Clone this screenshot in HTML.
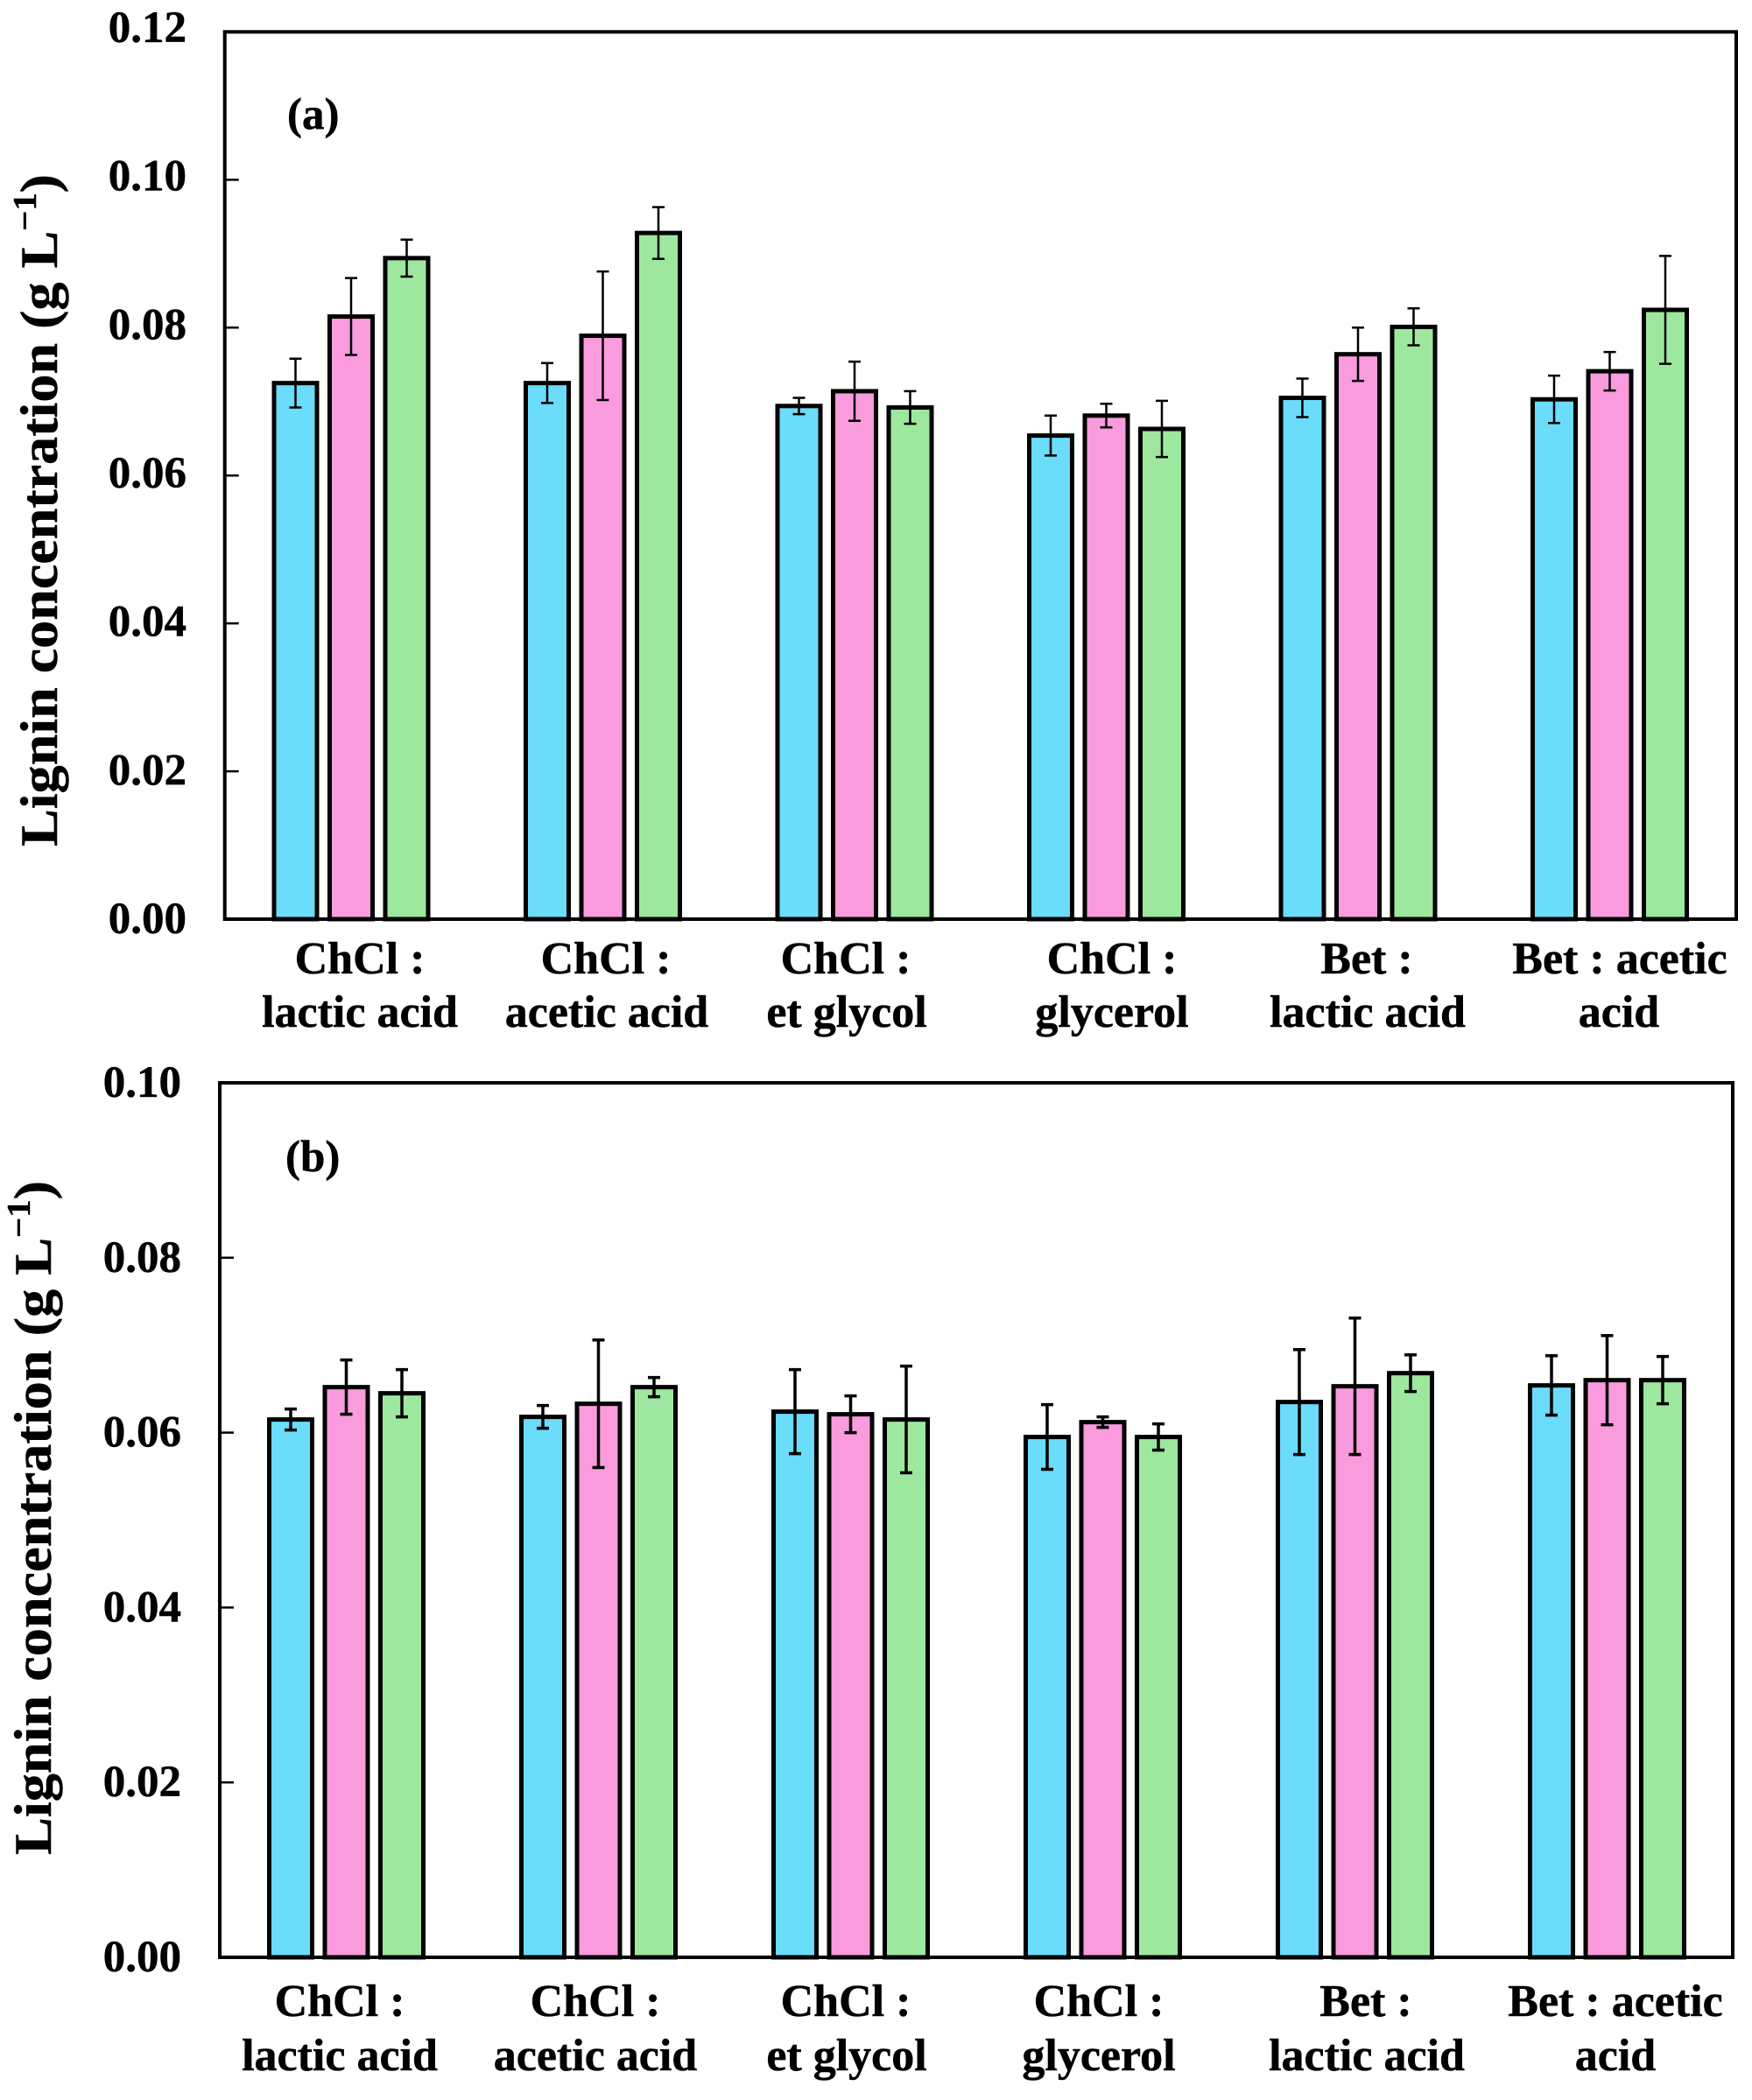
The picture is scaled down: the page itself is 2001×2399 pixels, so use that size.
<!DOCTYPE html>
<html lang="en">
<head>
<meta charset="utf-8">
<title>Lignin concentration bar charts</title>
<style>
html,body{margin:0;padding:0;background:#fff;}
svg{display:block;}
text{font-family:"Liberation Serif",serif;font-weight:bold;fill:#000;stroke:#000;stroke-width:.5px;}
.cat{font-size:52px;text-anchor:middle;}
.tick{font-size:51px;text-anchor:end;}
.title{font-size:60px;}
.sup{font-size:38px;}
.panel-tag{font-size:51px;}
</style>
</head>
<body>
<svg id="chart" xmlns="http://www.w3.org/2000/svg" width="2001" height="2399" viewBox="0 0 2001 2399">
  <rect width="2001" height="2399" fill="#fff"/>
  <g id="panel-a"></g>
  <g id="panel-b"></g>

  <text class="panel-tag" x="328" y="147">(a)</text>
  <text class="panel-tag" x="326" y="1338">(b)</text>

  <text class="title" transform="translate(65,967) rotate(-90)" textLength="768" lengthAdjust="spacingAndGlyphs">Lignin concentration (g L<tspan class="sup" dy="-24">−1</tspan><tspan dy="24">)</tspan></text>
  <text class="title" transform="translate(58,2119) rotate(-90)" textLength="770" lengthAdjust="spacingAndGlyphs">Lignin concentration (g L<tspan class="sup" dy="-24">−1</tspan><tspan dy="24">)</tspan></text>

  <g>
    <text class="cat" x="411" y="1112">ChCl :</text>
    <text class="cat" x="411" y="1173">lactic acid</text>
    <text class="cat" x="692" y="1112">ChCl :</text>
    <text class="cat" x="693" y="1173">acetic acid</text>
    <text class="cat" x="966" y="1112">ChCl :</text>
    <text class="cat" x="967" y="1173">et glycol</text>
    <text class="cat" x="1270" y="1112">ChCl :</text>
    <text class="cat" x="1270" y="1173">glycerol</text>
    <text class="cat" x="1561" y="1112">Bet :</text>
    <text class="cat" x="1562" y="1173">lactic acid</text>
    <text class="cat" x="1850" y="1112">Bet : acetic</text>
    <text class="cat" x="1849" y="1173">acid</text>
  </g>
  <g>
    <text class="cat" x="388" y="2303">ChCl :</text>
    <text class="cat" x="388" y="2365">lactic acid</text>
    <text class="cat" x="680" y="2303">ChCl :</text>
    <text class="cat" x="680" y="2365">acetic acid</text>
    <text class="cat" x="966" y="2303">ChCl :</text>
    <text class="cat" x="967" y="2365">et glycol</text>
    <text class="cat" x="1255" y="2303">ChCl :</text>
    <text class="cat" x="1255" y="2365">glycerol</text>
    <text class="cat" x="1560" y="2303">Bet :</text>
    <text class="cat" x="1561" y="2365">lactic acid</text>
    <text class="cat" x="1845" y="2303">Bet : acetic</text>
    <text class="cat" x="1845" y="2365">acid</text>
  </g>
</svg>
<script>
const categories = ['chcl-lactic-acid', 'chcl-acetic-acid', 'chcl-et-glycol', 'chcl-glycerol', 'bet-lactic-acid', 'bet-acetic-acid'];
const seriesNames = ['blue', 'pink', 'green'];
const seriesColors = ['#6bdcfa', '#f99bdd', '#9ee79f'];

const yTicksA = [0, 0.02, 0.04, 0.06, 0.08, 0.10, 0.12];
const yTicksB = [0, 0.02, 0.04, 0.06, 0.08, 0.10];

const aBlue = [0.0725, 0.0725, 0.0694, 0.0654, 0.0705, 0.0703];
const aPink = [0.0815, 0.0789, 0.0714, 0.0681, 0.0764, 0.0741];
const aGreen = [0.0894, 0.0928, 0.0692, 0.0663, 0.0801, 0.0824];
const aBlueErr = [0.0033, 0.0027, 0.0011, 0.0027, 0.0026, 0.0032];
const aPinkErr = [0.0052, 0.0087, 0.0040, 0.0016, 0.0036, 0.0026];
const aGreenErr = [0.0025, 0.0035, 0.0022, 0.0038, 0.0025, 0.0073];

const bBlue = [0.0615, 0.0618, 0.0624, 0.0595, 0.0635, 0.0654];
const bPink = [0.0652, 0.0633, 0.0621, 0.0612, 0.0653, 0.0660];
const bGreen = [0.0645, 0.0652, 0.0615, 0.0595, 0.0668, 0.0660];
const bBlueErr = [0.0012, 0.0013, 0.0048, 0.0037, 0.0060, 0.0034];
const bPinkErr = [0.0031, 0.0073, 0.0021, 0.0006, 0.0078, 0.0051];
const bGreenErr = [0.0027, 0.0011, 0.0061, 0.0015, 0.0021, 0.0027];

const NS = 'http://www.w3.org/2000/svg';

function mk(parent, tag, attrs) {
  const el = document.createElementNS(NS, tag);
  for (const k in attrs) el.setAttribute(k, attrs[k]);
  parent.appendChild(el);
  return el;
}

function drawPanel(cfg) {
  const root = document.getElementById(cfg.id);
  const yMax = cfg.ticks[cfg.ticks.length - 1];
  const yScale = v => cfg.bottom - (v / yMax) * (cfg.bottom - cfg.top);
  const xScale = (g, s) => cfg.firstCenter + g * cfg.groupPitch + (s - 1) * cfg.barPitch;

  cfg.values.forEach((series, s) => {
    series.forEach((v, g) => {
      const cx = xScale(g, s);
      const y = yScale(v);
      const bar = mk(root, 'rect', {
        x: cx - 24.5, y: y, width: 49, height: cfg.bottom - y,
        fill: seriesColors[s], stroke: '#000', 'stroke-width': 5
      });
      
      
    });
  });

  cfg.values.forEach((series, s) => {
    series.forEach((v, g) => {
      const cx = xScale(g, s);
      const e = cfg.errors[s][g];
      const yHi = yScale(v + e);
      const yLo = yScale(v - e);
      const eb = mk(root, 'path', {
        d: 'M' + (cx - 7) + ' ' + yHi + 'H' + (cx + 7) + 'M' + cx + ' ' + yHi + 'V' + yLo + 'M' + (cx - 7) + ' ' + yLo + 'H' + (cx + 7),
        fill: 'none', stroke: '#000', 'stroke-width': cfg.errWidth
      });
      
      
    });
  });

  const frame = mk(root, 'rect', {
    x: cfg.left, y: cfg.top, width: cfg.right - cfg.left, height: cfg.bottom - cfg.top,
    fill: 'none', stroke: '#000', 'stroke-width': 4
  });
  
  

  cfg.ticks.forEach(t => {
    const y = yScale(t);
    if (t > 0 && t < yMax) {
      const tick = mk(root, 'line', {
        x1: cfg.left, x2: cfg.left + 16, y1: y, y2: y, stroke: '#000', 'stroke-width': 2.5
      });
      
      
    }
    const label = mk(root, 'text', {
      class: 'tick', x: cfg.labelRight,
      y: y + 16 - (t / yMax) * cfg.labelDrift
    });
    label.textContent = t.toFixed(2);
    
    
  });
}

drawPanel({
  id: 'panel-a', tag: 'a',
  left: 256.7, right: 1983, top: 36.4, bottom: 1050,
  firstCenter: 401, groupPitch: 287.5, barPitch: 63.5,
  labelRight: 213, labelDrift: 4.5, errWidth: 2.5,
  ticks: yTicksA,
  values: [aBlue, aPink, aGreen],
  errors: [aBlueErr, aPinkErr, aGreenErr]
});

drawPanel({
  id: 'panel-b', tag: 'b',
  left: 251, right: 1979, top: 1237, bottom: 2236,
  firstCenter: 395.5, groupPitch: 288, barPitch: 63.5,
  labelRight: 207, labelDrift: 0, errWidth: 3.5,
  ticks: yTicksB,
  values: [bBlue, bPink, bGreen],
  errors: [bBlueErr, bPinkErr, bGreenErr]
});
</script>
</body>
</html>
